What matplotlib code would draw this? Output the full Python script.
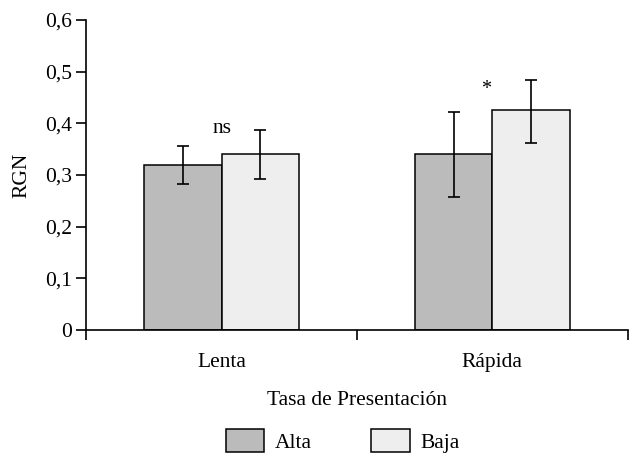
import numpy as np
import matplotlib.pyplot as plt
from matplotlib.patches import Patch

plt.rcParams['font.family'] = ['Liberation Serif', 'DejaVu Serif']

# data
categories = ['Lenta', 'Rápida']
alta = [0.32, 0.34]
alta_err_low = [0.038, 0.082]
alta_err_high = [0.036, 0.081]
baja = [0.34, 0.425]
baja_err_low = [0.048, 0.064]
baja_err_high = [0.048, 0.059]
signif = ['ns', '*']
signif_y = [0.39, 0.465]

FS = 15.5

fig = plt.figure(figsize=(6.29, 4.55), dpi=100)
ax = fig.add_axes([0.137, 0.275, 0.861, 0.681])

x = np.arange(len(categories))
w = 0.285
err_kw = dict(ecolor='black', elinewidth=1.2, capsize=4.5, capthick=1.2)
ax.bar(x - w / 2, alta, w, color='#bbbbbb', edgecolor='black', linewidth=1.1,
       yerr=[alta_err_low, alta_err_high], error_kw=err_kw, zorder=2)
ax.bar(x + w / 2, baja, w, color='#eeeeee', edgecolor='black', linewidth=1.1,
       yerr=[baja_err_low, baja_err_high], error_kw=err_kw, zorder=2)

# significance marks between the two bars of each group
ax.text(x[0], signif_y[0], signif[0], ha='center', va='center', fontsize=FS)
ax.text(x[1] - 0.025, signif_y[1], signif[1], ha='center', va='center', fontsize=FS - 1)

ax.set_xlim(-0.5, 1.5)
ax.set_ylim(0, 0.6)
ax.set_yticks(np.arange(0, 0.61, 0.1))
ax.set_yticklabels(['0', '0,1', '0,2', '0,3', '0,4', '0,5', '0,6'], fontsize=FS)
ax.set_xticks([-0.5, 0.5, 1.5])
ax.set_xticklabels([])
ax.set_xticks(x, minor=True)
ax.set_xticklabels(categories, minor=True, fontsize=FS)
ax.tick_params(axis='x', which='major', length=7, width=1.2, direction='out')
ax.tick_params(axis='x', which='minor', length=0, pad=17)
ax.tick_params(axis='y', length=7, width=1.2, direction='out', pad=3)

for s in ['top', 'right']:
    ax.spines[s].set_visible(False)
for s in ['left', 'bottom']:
    ax.spines[s].set_linewidth(1.2)

ax.set_ylabel('RGN', fontsize=FS, labelpad=10)
ax.set_xlabel('Tasa de Presentación', fontsize=FS, labelpad=13)

handles = [Patch(facecolor='#bbbbbb', edgecolor='black', linewidth=1.1, label='Alta'),
           Patch(facecolor='#eeeeee', edgecolor='black', linewidth=1.1, label='Baja')]
fig.legend(handles=handles, loc='upper center', bbox_to_anchor=(0.545, 0.058),
           ncol=2, frameon=False, fontsize=FS, handlelength=1.8, handleheight=1.3,
           handletextpad=0.5, columnspacing=2.75, borderaxespad=0, borderpad=0)

fig.savefig('out.png', dpi=100)
